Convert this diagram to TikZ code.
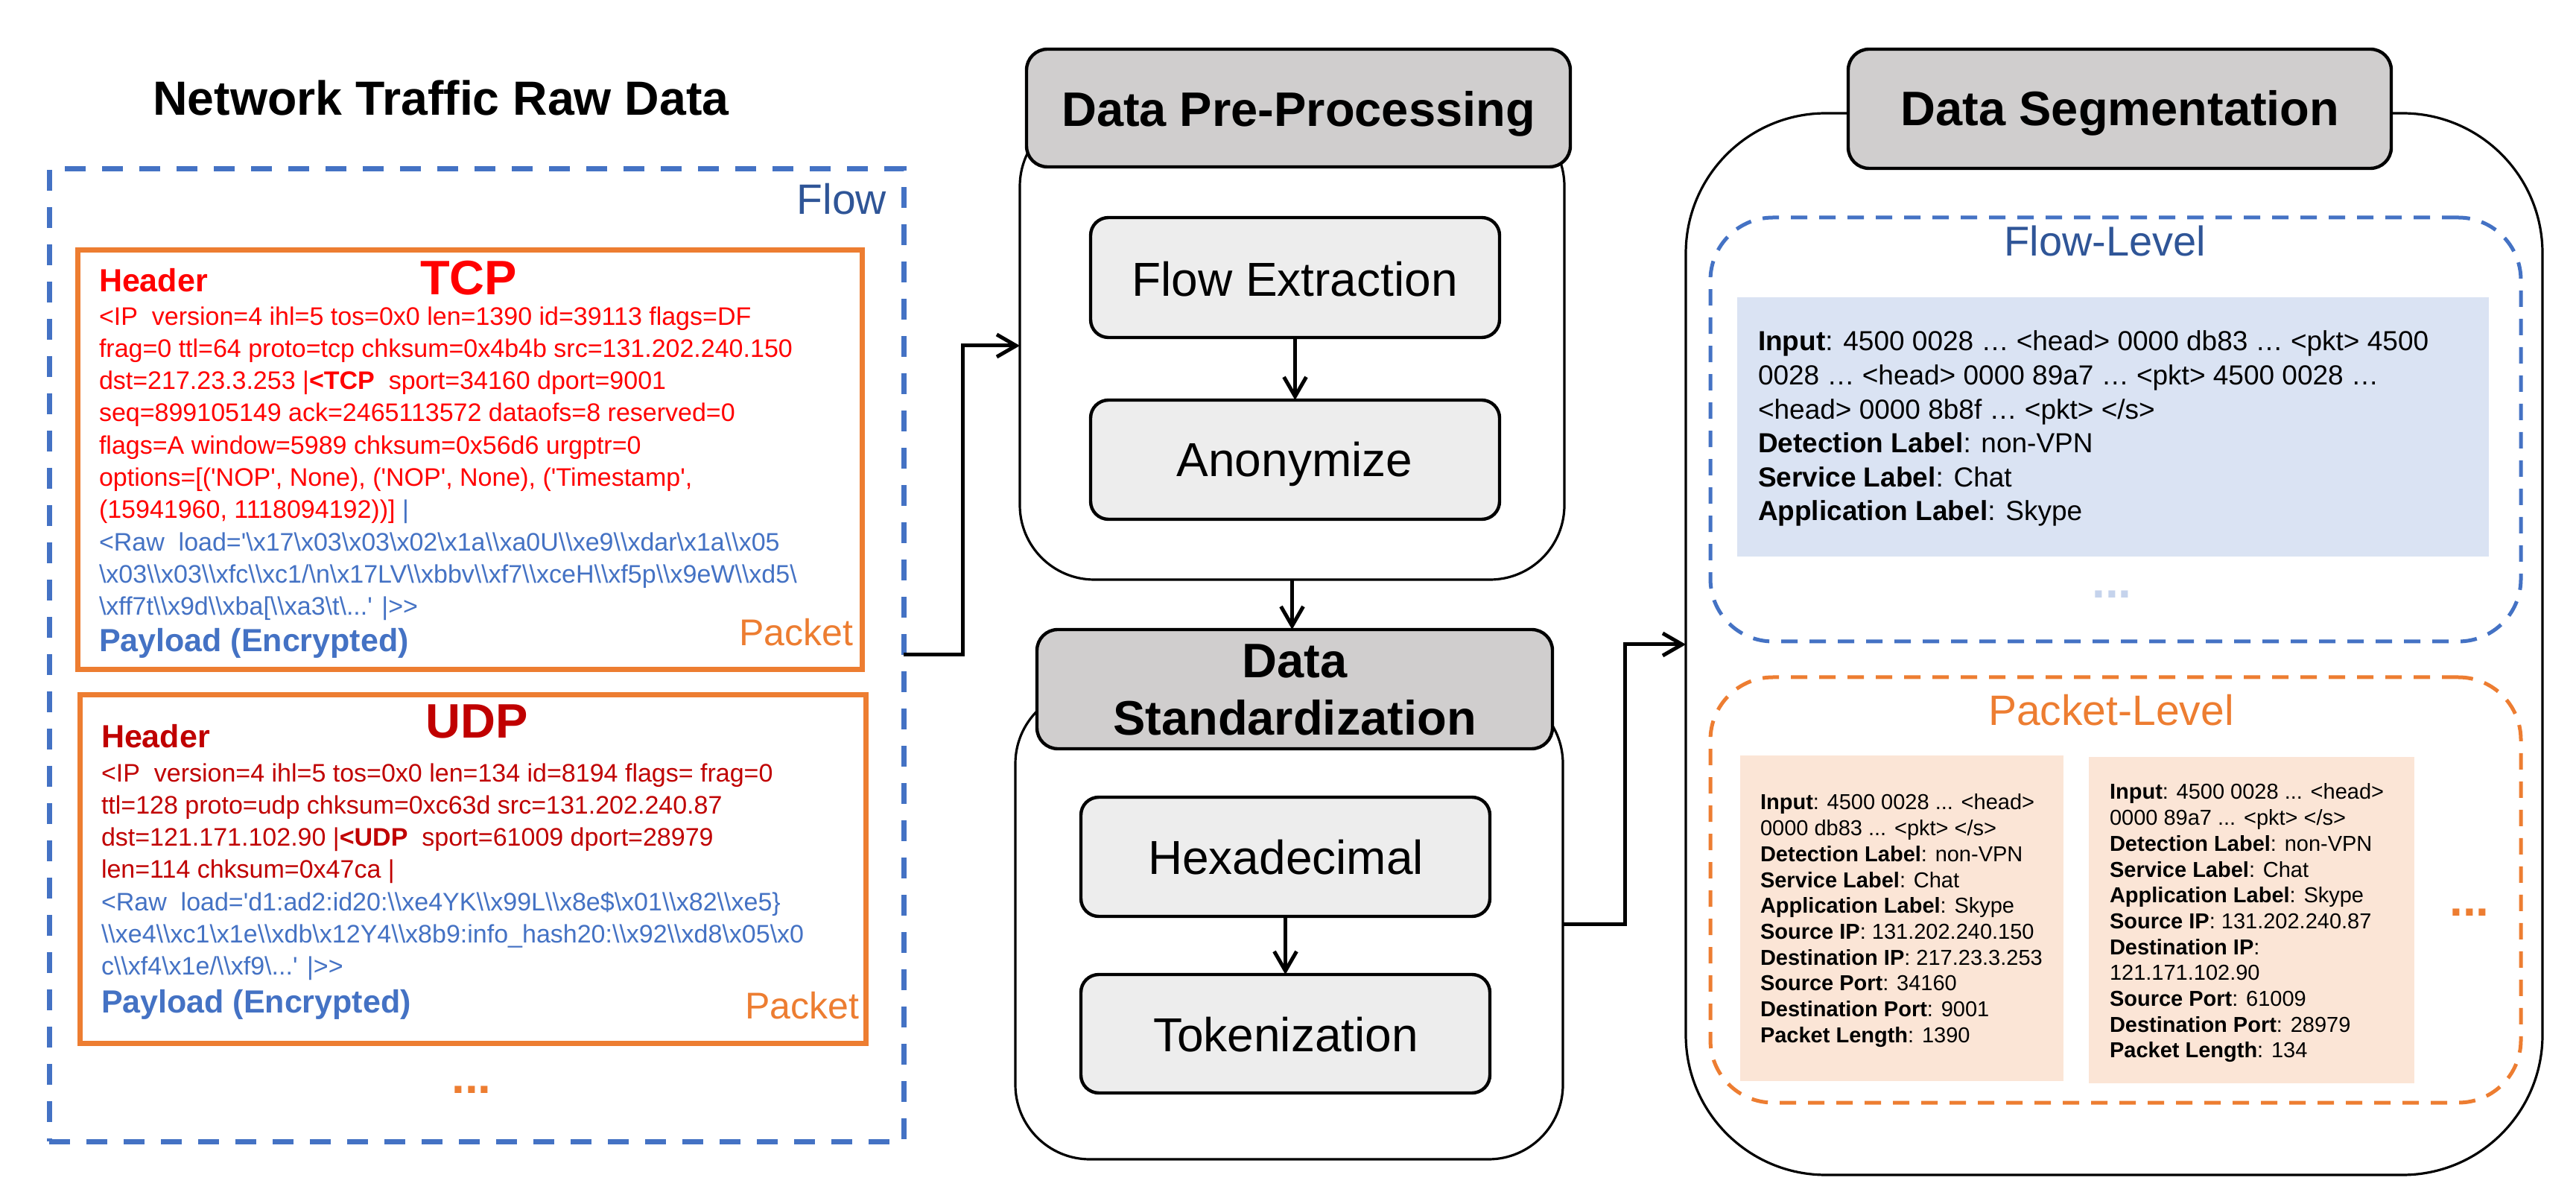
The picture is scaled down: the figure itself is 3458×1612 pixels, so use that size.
\documentclass[tikz,border=0pt]{standalone}
\usepackage{fontspec}
\setmainfont{Liberation Sans}
\newfontfamily\af{Liberation Sans}
\usetikzlibrary{fit,arrows.meta}
\definecolor{cblue}{HTML}{4472C4}
\definecolor{cdblue}{HTML}{2F5597}
\definecolor{corange}{HTML}{ED7D31}
\definecolor{cred}{HTML}{FF0000}
\definecolor{cdred}{HTML}{C00000}
\definecolor{cgray}{HTML}{D0CECE}
\definecolor{clgray}{HTML}{EDEDED}
\definecolor{cfblue}{HTML}{DAE3F3}
\definecolor{cforange}{HTML}{FBE5D6}
\definecolor{cdots}{HTML}{C5D3EC}
\newcommand\BS{\textbackslash}
\newcommand\fsz[2]{\fontsize{#1}{#2}\selectfont}
\tikzset{
  box/.style={inner sep=0pt, outer sep=0pt},
  flowdash/.style={box, draw=cblue, line width=1.75pt, dash pattern=on 7pt off 5.5pt},
  pktbox/.style={box, draw=corange, line width=1.75pt},
  container/.style={box, draw=black, line width=0.8pt, fill=white},
  hdrbox/.style={box, draw=black, line width=1.1pt, fill=cgray, rounded corners=7pt},
  stepbox/.style={box, draw=black, line width=1.1pt, fill=clgray, rounded corners=6pt},
  lvl/.style={box, line width=1.25pt, dash pattern=on 5.5pt off 4pt, rounded corners=21pt},
  conn/.style={line width=1.25pt, -{Straight Barb[length=6.5pt, width=7.5pt]}},
  txt/.style={inner sep=0pt, outer sep=0pt, font=\af},
}
\begin{document}
\begin{tikzpicture}[x=0.25pt, y=-0.25pt]
\useasboundingbox (0,0) rectangle (3458,1612);
\fill[white] (0,0) rectangle (3458,1612);

% ---------------- left column ----------------
\node[txt, anchor=base, font=\af\bfseries\fsz{16.1}{19}] (title) at (592,155) {Network Traffic Raw Data};
\node[flowdash, fit={(66,227) (1213,1532)}] (flow) {};
\node[txt, anchor=base east, text=cdblue, font=\af\fsz{14.25}{17}] (flowlbl) at (1190,288) {Flow};

\node[pktbox, fit={(104,336) (1157,899)}] (tcp) {};
\node[txt, anchor=base west, text=cred, font=\af\bfseries\fsz{10.75}{13}] (tcphdr) at (133,392) {Header};
\node[txt, anchor=base, text=cred, font=\af\bfseries\fsz{16.25}{19}] (tcpname) at (629,396) {TCP};
\node[txt, anchor=north west, align=left, text=cred, font=\af\fsz{8.5}{10.83}] (tcpbody) at (133,405.7) {%
\strut <IP\ \ version=4 ihl=5 tos=0x0 len=1390 id=39113 flags=DF\\
frag=0 ttl=64 proto=tcp chksum=0x4b4b src=131.202.240.150\\
dst=217.23.3.253 |\textbf{<TCP}\ \ sport=34160 dport=9001\\
seq=899105149 ack=2465113572 dataofs=8 reserved=0\\
flags=A window=5989 chksum=0x56d6 urgptr=0\\
options=[('NOP', None), ('NOP', None), ('Timestamp',\\
(15941960, 1118094192))] \textcolor{cblue}{|}\\
\textcolor{cblue}{<Raw\ \ load='\BS x17\BS x03\BS x03\BS x02\BS x1a\BS\BS xa0U\BS\BS xe9\BS\BS xdar\BS x1a\BS\BS x05}\\
\textcolor{cblue}{\BS x03\BS\BS x03\BS\BS xfc\BS\BS xc1/\BS n\BS x17LV\BS\BS xbbv\BS\BS xf7\BS\BS xceH\BS\BS xf5p\BS\BS x9eW\BS\BS xd5\BS}\\
\textcolor{cblue}{\BS xff7t\BS\BS x9d\BS\BS xba[\BS\BS xa3\BS t\BS...' |>>}};
\node[txt, anchor=base west, text=cblue, font=\af\bfseries\fsz{10.75}{13}] (tcppay) at (133,875) {Payload (Encrypted)};
\node[txt, anchor=base east, text=corange, font=\af\fsz{12.5}{15}] (tcppkt) at (1145,867) {Packet};

\node[pktbox, fit={(107,933) (1162,1400)}] (udp) {};
\node[txt, anchor=base west, text=cdred, font=\af\bfseries\fsz{10.75}{13}] (udphdr) at (136,1004) {Header};
\node[txt, anchor=base, text=cdred, font=\af\bfseries\fsz{16.25}{19}] (udpname) at (640,991) {UDP};
\node[txt, anchor=north west, align=left, text=cdred, font=\af\fsz{8.5}{10.8}] (udpbody) at (136,1019) {%
\strut <IP\ \ version=4 ihl=5 tos=0x0 len=134 id=8194 flags= frag=0\\
ttl=128 proto=udp chksum=0xc63d src=131.202.240.87\\
dst=121.171.102.90 |\textbf{<UDP}\ \ sport=61009 dport=28979\\
len=114 chksum=0x47ca |\\
\textcolor{cblue}{<Raw\ \ load='d1:ad2:id20:\BS\BS xe4YK\BS\BS x99L\BS\BS x8e\$\BS x01\BS\BS x82\BS\BS xe5\}}\\
\textcolor{cblue}{\BS\BS xe4\BS\BS xc1\BS x1e\BS\BS xdb\BS x12Y4\BS\BS x8b9:info\_hash20:\BS\BS x92\BS\BS xd8\BS x05\BS x0}\\
\textcolor{cblue}{c\BS\BS xf4\BS x1e/\BS\BS xf9\BS...' |>>}};
\node[txt, anchor=base west, text=cblue, font=\af\bfseries\fsz{10.75}{13}] (udppay) at (136,1359) {Payload (Encrypted)};
\node[txt, anchor=base east, text=corange, font=\af\fsz{12.5}{15}] (udppkt) at (1153,1367) {Packet};
\node[txt, anchor=base, text=corange, font=\af\bfseries\fsz{16}{19}] (moredots) at (633,1467) {...};

% ---------------- middle column ----------------
\node[container, rounded corners=25pt, fit={(1369,150) (2100,778)}] (prec) {};
\node[hdrbox, fit={(1378,66) (2108,224)}] (preh) {};
\node[txt, anchor=base, font=\af\bfseries\fsz{16.25}{19}] (pretxt) at (1743,170) {Data Pre-Processing};
\node[stepbox, fit={(1464,292) (2013,453)}] (fe) {};
\node[txt, anchor=base, font=\af\fsz{16}{19}] (fetxt) at (1738,398) {Flow Extraction};
\node[stepbox, fit={(1464,537) (2013,697)}] (an) {};
\node[txt, anchor=base, font=\af\fsz{16}{19}] (antxt) at (1738,640) {Anonymize};
\draw[conn] (fe) -- (an);

\node[container, rounded corners=25pt, fit={(1363,925) (2098,1556)}] (stdc) {};
\node[hdrbox, fit={(1392,845) (2084,1005)}] (stdh) {};
\node[txt, anchor=base, font=\af\bfseries\fsz{16.25}{19}] (stdtxt1) at (1738,910) {Data};
\node[txt, anchor=base, font=\af\bfseries\fsz{16.25}{19}] (stdtxt2) at (1738,987) {Standardization};
\node[stepbox, fit={(1451,1070) (2000,1230)}] (hex) {};
\node[txt, anchor=base, font=\af\fsz{16}{19}] (hextxt) at (1726,1174) {Hexadecimal};
\node[stepbox, fit={(1451,1308) (2000,1467)}] (tok) {};
\node[txt, anchor=base, font=\af\fsz{16}{19}] (toktxt) at (1726,1411) {Tokenization};
\draw[conn] (hex) -- (tok);

\draw[conn] (prec.south) -- (prec.south |- stdh.north);

% ---------------- right column ----------------
\node[container, rounded corners=47pt, fit={(2263,152) (3413,1577)}] (segc) {};
\node[hdrbox, fit={(2481,66) (3210,226)}] (segh) {};
\node[txt, anchor=base, font=\af\bfseries\fsz{16.25}{19}] (segtxt) at (2846,169) {Data Segmentation};

\node[lvl, draw=cblue, fit={(2296,292) (3384,861)}] (flvl) {};
\node[txt, anchor=base, text=cdblue, font=\af\fsz{14}{17}] (flvltxt) at (2826,344) {Flow-Level};
\node[box, fill=cfblue, fit={(2332,399) (3341,747)}] (finfo) {};
\node[txt, anchor=north west, align=left, font=\af\fsz{9.25}{11.4}] (finfotxt) at (2360,439) {%
\strut\textbf{Input}: 4500 0028 … <head> 0000 db83 … <pkt> 4500\\
0028 … <head> 0000 89a7 … <pkt> 4500 0028 …\\
<head> 0000 8b8f … <pkt> </s>\\
\textbf{Detection Label}: non-VPN\\
\textbf{Service Label}: Chat\\
\textbf{Application Label}: Skype};
\node[txt, anchor=base, text=cdots, font=\af\bfseries\fsz{16}{19}] (fdots) at (2835,803) {...};

\node[lvl, draw=corange, fit={(2296,909) (3384,1480)}] (plvl) {};
\node[txt, anchor=base, text=corange, font=\af\fsz{14.25}{17}] (plvltxt) at (2834,974) {Packet-Level};
\node[box, fill=cforange, fit={(2336,1014) (2770,1451)}] (pinfo1) {};
\node[txt, anchor=north west, align=left, font=\af\fsz{7.25}{8.67}] (pinfo1txt) at (2363,1062.7) {%
\strut\textbf{Input}: 4500 0028 ... <head>\\
0000 db83 ... <pkt> </s>\\
\textbf{Detection Label}: non-VPN\\
\textbf{Service Label}: Chat\\
\textbf{Application Label}: Skype\\
\textbf{Source IP}: 131.202.240.150\\
\textbf{Destination IP}: 217.23.3.253\\
\textbf{Source Port}: 34160\\
\textbf{Destination Port}: 9001\\
\textbf{Packet Length}: 1390};
\node[box, fill=cforange, fit={(2804,1016) (3241,1454)}] (pinfo2) {};
\node[txt, anchor=north west, align=left, font=\af\fsz{7.25}{8.67}] (pinfo2txt) at (2832,1048.7) {%
\strut\textbf{Input}: 4500 0028 ... <head>\\
0000 89a7 ... <pkt> </s>\\
\textbf{Detection Label}: non-VPN\\
\textbf{Service Label}: Chat\\
\textbf{Application Label}: Skype\\
\textbf{Source IP}: 131.202.240.87\\
\textbf{Destination IP}:\\
121.171.102.90\\
\textbf{Source Port}: 61009\\
\textbf{Destination Port}: 28979\\
\textbf{Packet Length}: 134};
\node[txt, anchor=base, text=corange, font=\af\bfseries\fsz{16}{19}] (pdots) at (3315,1230) {...};

% ---------------- connectors ----------------
\coordinate (k1) at (1292,879);
\draw[conn] (flow.east |- k1) -- (k1) |- (prec.west);
\coordinate (k2) at (2181,865);
\draw[conn] (stdc.east) -| (k2) -- (segc.west |- k2);
\end{tikzpicture}
\end{document}
